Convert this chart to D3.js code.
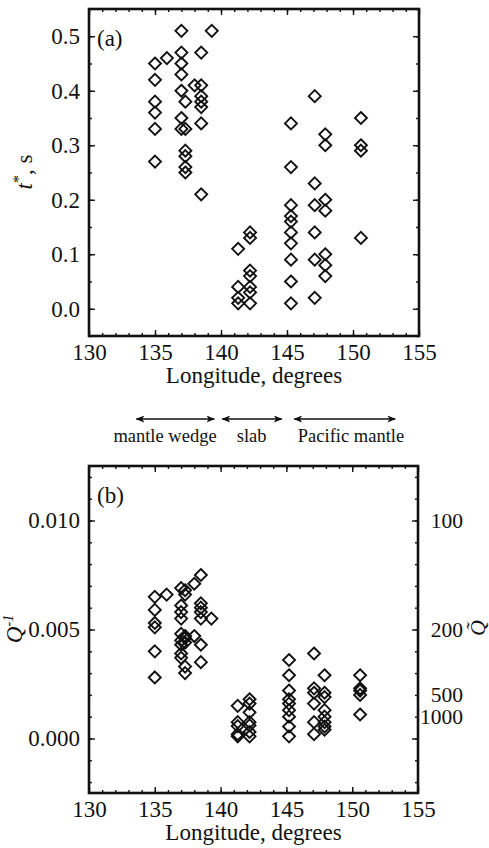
<!DOCTYPE html>
<html lang="en">
<head>
<meta charset="UTF-8">
<title>t* and Q-1 versus longitude</title>
<script src="https://d3js.org/d3.v7.min.js"></script>
<style>
    body { margin: 0; background: #fff; }
    svg text { font-family: "Liberation Serif", "Times New Roman", serif; fill: #111; }
    .frame { fill: none; stroke: #111; stroke-width: 2.6; }
    .axis path { display: none; }
    .axis line { stroke: #111; stroke-width: 1.4; }
    .axis text { font-size: 23px; }
    .pt { fill: none; stroke: #111; stroke-width: 1.9; }
</style>
</head>
<body>
<svg id="chart" width="489" height="848"></svg>
<script>
// panel (a): t* in seconds, read by column of longitude
var aLon = [135.0, 135.9, 137.0, 137.3, 138.0, 138.5, 139.3, 141.3, 142.2, 145.3, 147.1, 147.9, 150.6];
var aTstar = [
    [0.45, 0.42, 0.38, 0.36, 0.33, 0.27],
    [0.46],
    [0.51, 0.47, 0.45, 0.43, 0.40, 0.35, 0.33],
    [0.38, 0.33, 0.29, 0.28, 0.26, 0.25],
    [0.41],
    [0.47, 0.41, 0.39, 0.38, 0.37, 0.34, 0.21],
    [0.51],
    [0.11, 0.04, 0.02, 0.01],
    [0.14, 0.13, 0.07, 0.06, 0.04, 0.03, 0.01],
    [0.34, 0.26, 0.19, 0.17, 0.16, 0.14, 0.12, 0.09, 0.05, 0.01],
    [0.39, 0.23, 0.19, 0.14, 0.09, 0.02],
    [0.32, 0.30, 0.20, 0.18, 0.10, 0.08, 0.06],
    [0.35, 0.30, 0.29, 0.13]
];

// panel (b): Q^-1
var bLon = [135.0, 135.9, 137.0, 137.3, 138.0, 138.5, 139.3, 141.3, 142.2, 145.2, 147.1, 147.9, 150.6];
var bQinv = [
    [0.0065, 0.0059, 0.0053, 0.0051, 0.0040, 0.0028],
    [0.0066],
    [0.0069, 0.0061, 0.0058, 0.0055, 0.0048, 0.0045, 0.0043, 0.0039, 0.0037],
    [0.0068, 0.0066, 0.0047, 0.0046, 0.0044, 0.0033, 0.0030],
    [0.0071, 0.0047],
    [0.0075, 0.0062, 0.0060, 0.0058, 0.0055, 0.0043, 0.0035],
    [0.0055],
    [0.0015, 0.00075, 0.00057, 0.0002, 0.0001],
    [0.0018, 0.0016, 0.0012, 0.00075, 0.0006, 0.0003, 0.0001],
    [0.0036, 0.0029, 0.0022, 0.0018, 0.0016, 0.0013, 0.0010, 0.00055, 0.0001],
    [0.0039, 0.0023, 0.0021, 0.0016, 0.00075, 0.0002],
    [0.0029, 0.0021, 0.0019, 0.0013, 0.0010, 0.00075, 0.00055, 0.0004],
    [0.0029, 0.0023, 0.0022, 0.0020, 0.0011]
];

var lonTicks = [130, 135, 140, 145, 150, 155];
var tTicks = [0.0, 0.1, 0.2, 0.3, 0.4, 0.5];
var qinvTicks = [0.000, 0.005, 0.010];
var qTicks = [100, 200, 500, 1000];

var regionNames = ["mantle wedge", "slab", "Pacific mantle"];
var regionFrom = [133.6, 140.1, 145.55];
var regionTo = [139.5, 144.6, 153.2];

var svg = d3.select("#chart");

var defs = svg.append("defs");
defs.append("marker")
    .attr("id", "head")
    .attr("viewBox", "0 0 10 8")
    .attr("refX", 9)
    .attr("refY", 4)
    .attr("markerWidth", 9)
    .attr("markerHeight", 7)
    .attr("markerUnits", "userSpaceOnUse")
    .attr("orient", "auto-start-reverse")
    .append("path")
    .attr("d", "M0,0L10,4L0,8L2.5,4Z")
    .attr("fill", "#111");

var diamond = "M0,-6L6,0L0,6L-6,0Z";

function flatten(lons, vals) {
    var out = [];
    lons.forEach(function (lon, i) {
        vals[i].forEach(function (v) { out.push({ lon: lon, v: v }); });
    });
    return out;
}

function panel(box, yDomain, yMajor, yMinor, yFmt) {
    var w = box.right - box.left, h = box.bottom - box.top;
    var g = svg.append("g").attr("transform", "translate(" + box.left + "," + box.top + ")");
    var x = d3.scaleLinear().domain([130, 155]).range([0, w]);
    var y = d3.scaleLinear().domain(yDomain).range([h, 0]);
    var xMinor = d3.range(131, 155);

    // major + minor ticks on all four sides, pointing inward
    g.append("g").attr("class", "axis").attr("transform", "translate(0," + h + ")")
        .call(d3.axisBottom(x).tickValues(lonTicks).tickSize(-6).tickPadding(8).tickFormat(d3.format("d")));
    g.append("g").attr("class", "axis").attr("transform", "translate(0," + h + ")")
        .call(d3.axisBottom(x).tickValues(xMinor).tickSize(-3).tickFormat(""));
    g.append("g").attr("class", "axis")
        .call(d3.axisTop(x).tickValues(lonTicks).tickSize(-6).tickFormat(""));
    g.append("g").attr("class", "axis")
        .call(d3.axisTop(x).tickValues(xMinor).tickSize(-3).tickFormat(""));

    g.append("g").attr("class", "axis")
        .call(d3.axisLeft(y).tickValues(yMajor).tickSize(-6).tickPadding(9).tickFormat(yFmt));
    g.append("g").attr("class", "axis")
        .call(d3.axisLeft(y).tickValues(yMinor).tickSize(-3).tickFormat(""));
    g.append("g").attr("class", "axis").attr("transform", "translate(" + w + ",0)")
        .call(d3.axisRight(y).tickValues(yMajor).tickSize(-6).tickFormat(""));
    g.append("g").attr("class", "axis").attr("transform", "translate(" + w + ",0)")
        .call(d3.axisRight(y).tickValues(yMinor).tickSize(-3).tickFormat(""));

    g.append("rect").attr("class", "frame").attr("width", w).attr("height", h);

    g.append("text")
        .attr("x", w / 2)
        .attr("y", h + 47)
        .attr("text-anchor", "middle")
        .style("font-size", "23px")
        .text("Longitude, degrees");

    return { g: g, x: x, y: y, w: w, h: h };
}

// ---- panel (a)
var A = panel({ left: 89, right: 419, top: 9, bottom: 336 }, [-0.05, 0.55], tTicks,
    d3.range(-1, 12).map(function (i) { return i * 0.05; }), d3.format(".1f"));

A.g.selectAll(".pt")
    .data(flatten(aLon, aTstar))
    .enter()
    .append("path")
    .attr("class", "pt")
    .attr("d", diamond)
    .attr("transform", function (d) { return "translate(" + A.x(d.lon) + "," + A.y(d.v) + ")"; });

A.g.append("text").attr("x", 8).attr("y", 37).style("font-size", "23px").text("(a)");

var ta = svg.append("text")
    .attr("transform", "translate(32,172) rotate(-90)")
    .attr("text-anchor", "middle")
    .style("font-size", "23px");
ta.append("tspan").style("font-style", "italic").text("t");
ta.append("tspan").attr("dy", -8).style("font-size", "16px").text("*");
ta.append("tspan").attr("dy", 8).text(", s");

// ---- region arrows
var arrows = svg.append("g");
regionNames.forEach(function (name, i) {
    var x0 = A.x(regionFrom[i]) + 89, x1 = A.x(regionTo[i]) + 89;
    arrows.append("line")
        .attr("x1", x0).attr("x2", x1)
        .attr("y1", 419).attr("y2", 419)
        .attr("stroke", "#111")
        .attr("stroke-width", 1.6)
        .attr("marker-start", "url(#head)")
        .attr("marker-end", "url(#head)");
});
var labelCenters = [165, 251.7, 351];
regionNames.forEach(function (name, i) {
    arrows.append("text")
        .attr("x", labelCenters[i])
        .attr("y", 442)
        .attr("text-anchor", "middle")
        .style("font-size", "18.5px")
        .text(name);
});

// ---- panel (b)
var B = panel({ left: 89, right: 418, top: 466, bottom: 793 }, [-0.0025, 0.0125], qinvTicks,
    d3.range(-2, 13).map(function (i) { return i * 0.001; }), d3.format(".3f"));

B.g.selectAll(".pt")
    .data(flatten(bLon, bQinv))
    .enter()
    .append("path")
    .attr("class", "pt")
    .attr("d", diamond)
    .attr("transform", function (d) { return "translate(" + B.x(d.lon) + "," + B.y(d.v) + ")"; });

B.g.append("text").attr("x", 8).attr("y", 37).style("font-size", "23px").text("(b)");

// right axis: Q labels placed at 1/Q
var qAxis = B.g.append("g").attr("class", "axis").attr("transform", "translate(" + B.w + ",0)")
    .call(d3.axisRight(B.y)
        .tickValues(qTicks.map(function (q) { return 1 / q; }))
        .tickSize(0)
        .tickFormat(function (d) { return Math.round(1 / d); }));
qAxis.selectAll("text").attr("x", 45).attr("text-anchor", "end").style("font-size", "21.5px");

var qb = svg.append("text")
    .attr("transform", "translate(22,629) rotate(-90)")
    .attr("text-anchor", "middle")
    .style("font-size", "23px");
qb.append("tspan").style("font-style", "italic").text("Q");
qb.append("tspan").attr("dy", -9).style("font-size", "14px").style("font-style", "italic").text("-1");

svg.append("text")
    .attr("transform", "translate(485,628) rotate(-90)")
    .attr("text-anchor", "middle")
    .style("font-size", "22px")
    .style("font-style", "italic")
    .text("Q\u0303");
</script>
</body>
</html>
